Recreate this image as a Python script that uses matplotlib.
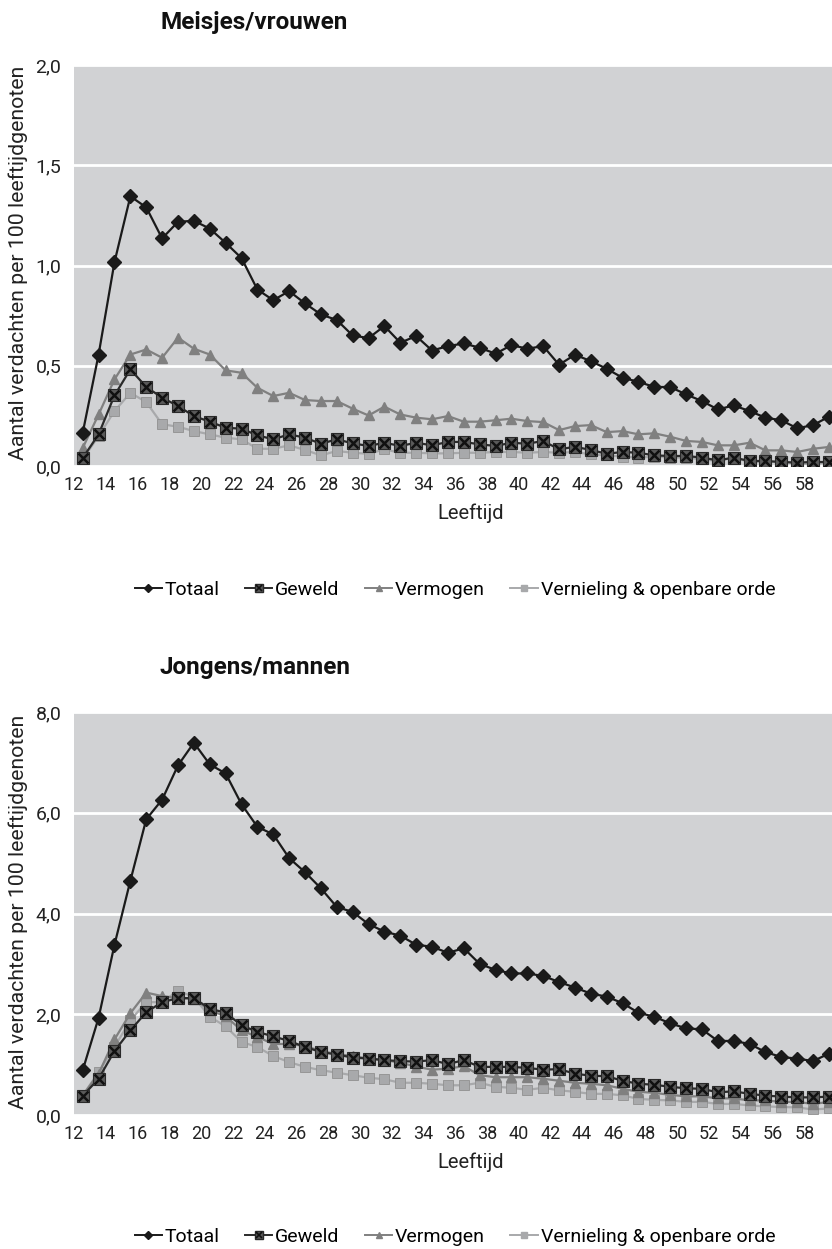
import numpy as np
import matplotlib.pyplot as plt
from matplotlib.lines import Line2D

ages = np.arange(12, 60)
tick_ages = list(range(12, 60, 2))

# Meisjes/vrouwen
f_totaal = [0.166, 0.556, 1.017, 1.345, 1.29, 1.135, 1.218, 1.223, 1.184, 1.113, 1.037, 0.880,
            0.827, 0.872, 0.811, 0.756, 0.728, 0.651, 0.638, 0.698, 0.615, 0.648, 0.576, 0.598,
            0.611, 0.590, 0.560, 0.603, 0.585, 0.598, 0.505, 0.555, 0.523, 0.485, 0.440, 0.420,
            0.394, 0.394, 0.357, 0.324, 0.282, 0.302, 0.274, 0.241, 0.228, 0.188, 0.204, 0.246]
f_geweld = [0.040, 0.158, 0.352, 0.482, 0.394, 0.341, 0.299, 0.249, 0.221, 0.191, 0.186, 0.153,
            0.133, 0.158, 0.141, 0.111, 0.133, 0.113, 0.100, 0.116, 0.100, 0.116, 0.103, 0.120,
            0.120, 0.108, 0.100, 0.116, 0.111, 0.125, 0.083, 0.096, 0.080, 0.061, 0.070, 0.066,
            0.053, 0.050, 0.050, 0.042, 0.028, 0.042, 0.025, 0.025, 0.020, 0.017, 0.020, 0.020]
f_vermogen = [0.090, 0.257, 0.432, 0.556, 0.581, 0.540, 0.640, 0.585, 0.556, 0.477, 0.465, 0.390,
              0.349, 0.365, 0.329, 0.324, 0.324, 0.286, 0.252, 0.296, 0.257, 0.241, 0.233, 0.249,
              0.221, 0.221, 0.228, 0.236, 0.224, 0.219, 0.179, 0.199, 0.204, 0.169, 0.174, 0.158,
              0.163, 0.146, 0.125, 0.120, 0.103, 0.103, 0.116, 0.078, 0.078, 0.070, 0.086, 0.095]
f_vernieling = [0.033, 0.150, 0.274, 0.365, 0.319, 0.208, 0.196, 0.174, 0.158, 0.141, 0.133, 0.086,
                0.086, 0.103, 0.080, 0.053, 0.075, 0.066, 0.061, 0.083, 0.066, 0.066, 0.063, 0.063,
                0.066, 0.066, 0.070, 0.070, 0.066, 0.070, 0.066, 0.070, 0.058, 0.053, 0.047, 0.042,
                0.047, 0.042, 0.042, 0.033, 0.025, 0.042, 0.020, 0.020, 0.020, 0.013, 0.008, 0.020]

# Jongens/mannen
m_totaal = [0.89, 1.93, 3.38, 4.65, 5.87, 6.26, 6.94, 7.39, 6.96, 6.78, 6.17, 5.72,
            5.57, 5.10, 4.82, 4.50, 4.13, 4.03, 3.79, 3.64, 3.56, 3.38, 3.34, 3.22,
            3.31, 3.00, 2.88, 2.81, 2.81, 2.76, 2.64, 2.53, 2.41, 2.35, 2.22, 2.03,
            1.95, 1.82, 1.72, 1.70, 1.47, 1.47, 1.41, 1.25, 1.15, 1.12, 1.07, 1.22]
m_geweld = [0.38, 0.72, 1.27, 1.68, 2.04, 2.24, 2.32, 2.32, 2.11, 2.03, 1.78, 1.65,
            1.56, 1.47, 1.35, 1.25, 1.20, 1.14, 1.12, 1.09, 1.07, 1.06, 1.09, 1.01,
            1.09, 0.955, 0.955, 0.955, 0.935, 0.90, 0.91, 0.82, 0.78, 0.77, 0.68, 0.62,
            0.60, 0.56, 0.53, 0.52, 0.45, 0.47, 0.42, 0.385, 0.365, 0.35, 0.35, 0.365]
m_vermogen = [0.39, 0.82, 1.50, 2.02, 2.43, 2.36, 2.32, 2.31, 2.08, 1.96, 1.68, 1.55,
              1.41, 1.41, 1.37, 1.27, 1.21, 1.17, 1.12, 1.09, 1.04, 0.96, 0.90, 0.92,
              0.97, 0.79, 0.75, 0.75, 0.75, 0.72, 0.68, 0.64, 0.62, 0.59, 0.52, 0.46,
              0.44, 0.40, 0.37, 0.37, 0.33, 0.33, 0.29, 0.29, 0.26, 0.26, 0.22, 0.26]
m_vernieling = [0.39, 0.85, 1.35, 1.88, 2.24, 2.24, 2.47, 2.34, 1.95, 1.76, 1.45, 1.35,
                1.17, 1.05, 0.955, 0.89, 0.84, 0.79, 0.74, 0.71, 0.64, 0.64, 0.62, 0.59,
                0.59, 0.64, 0.56, 0.54, 0.50, 0.54, 0.49, 0.46, 0.42, 0.42, 0.39, 0.32,
                0.30, 0.29, 0.26, 0.26, 0.22, 0.22, 0.19, 0.17, 0.16, 0.15, 0.11, 0.13]

labels = ['Totaal', 'Geweld', 'Vermogen', 'Vernieling & openbare orde']
BG = '#d1d2d4'
SANS = ['Roboto', 'DejaVu Sans']
TXT = '#222222'


def draw_panel(ax, tot, gew, ver, vern, ymax, yticks, big):
    ax.set_facecolor(BG)
    ms_sq = 8.5 if big else 8
    ax.plot(ages, vern, color='#a8a9ab', lw=1.6, marker='s', ms=7 if big else 6.5,
            mfc='#a8a9ab', mec='#909090', mew=0.6, zorder=3)
    ax.plot(ages, ver, color='#808080', lw=1.6, marker='^', ms=7.5,
            mfc='#808080', mec='#808080', zorder=4)
    ax.plot(ages, gew, color='#2a2a2a', lw=1.6, marker='s', ms=ms_sq,
            mfc='#5a5a5a', mec='#2a2a2a', mew=0.8, zorder=5)
    ax.plot(ages, gew, ls='none', marker='x', ms=ms_sq - 1.5, mec='#111111', mew=1.8, zorder=6)
    ax.plot(ages, tot, color='#1a1a1a', lw=1.6, marker='D', ms=7.3,
            mfc='#1a1a1a', mec='#1a1a1a', zorder=7)
    ax.set_xlim(11.62, 59.19)
    ax.set_ylim(0, ymax)
    ax.set_yticks(yticks)
    ax.set_yticklabels(['{:.1f}'.format(v).replace('.', ',') for v in yticks],
                       fontsize=14, family=SANS, color=TXT)
    # the category labels sit half a step left of the points, as in the original
    ax.set_xticks([a - 0.55 for a in tick_ages])
    ax.set_xticklabels([str(a) for a in tick_ages], fontsize=13, family=SANS, color=TXT)
    ax.tick_params(axis='both', length=0)
    ax.tick_params(axis='y', pad=9)
    ax.tick_params(axis='x', pad=7)
    ax.grid(axis='y', color='white', lw=2)
    ax.set_axisbelow(True)
    for s in ax.spines.values():
        s.set_visible(False)


fig = plt.figure(figsize=(8.32, 12.49), dpi=100)

ax1 = fig.add_axes([74 / 832, 1 - 466 / 1249, 758 / 832, 401 / 1249])
draw_panel(ax1, f_totaal, f_geweld, f_vermogen, f_vernieling, 2.0,
           [0.0, 0.5, 1.0, 1.5, 2.0], False)
ax2 = fig.add_axes([74 / 832, 1 - 1115 / 1249, 758 / 832, 403 / 1249])
draw_panel(ax2, m_totaal, m_geweld, m_vermogen, m_vernieling, 8.0,
           [0.0, 2.0, 4.0, 6.0, 8.0], True)

ylab = 'Aantal verdachten per 100 leeftijdgenoten'
for yc in (263, 912):
    fig.text(18 / 832, 1 - yc / 1249, ylab, rotation=90, ha='center', va='center',
             fontsize=15.3, family=SANS, color=TXT)

for yc in (513, 1162):
    fig.text(471 / 832, 1 - yc / 1249, 'Leeftijd', ha='center', va='center',
             fontsize=14.5, family=SANS, color=TXT)

fig.text(160 / 832, 1 - 23 / 1249, 'Meisjes/vrouwen', ha='left', va='center',
         fontsize=17.5, fontweight='bold', family=SANS, color='#111111')
fig.text(160 / 832, 1 - 668 / 1249, 'Jongens/mannen', ha='left', va='center',
         fontsize=17.5, fontweight='bold', family=SANS, color='#111111')

handles = [
    Line2D([], [], color='#1a1a1a', lw=1.4, marker='D', ms=4, mfc='#1a1a1a'),
    (Line2D([], [], color='#2a2a2a', lw=1.4, marker='s', ms=5.5, mfc='#5a5a5a', mec='#2a2a2a'),
     Line2D([], [], ls='none', marker='x', ms=4.5, mec='#111111', mew=1.2)),
    Line2D([], [], color='#808080', lw=1.4, marker='^', ms=5, mfc='#808080', mec='#808080'),
    Line2D([], [], color='#a8a9ab', lw=1.4, marker='s', ms=4.5, mfc='#a8a9ab', mec='#a8a9ab'),
]
for yc in (590, 1237):
    fig.legend(handles, labels, loc='center', bbox_to_anchor=(455 / 832, 1 - yc / 1249),
               ncol=4, frameon=False, handlelength=1.4, handletextpad=0.15,
               columnspacing=1.3, prop={'family': SANS, 'size': 14})

fig.savefig('out.png', dpi=100)
